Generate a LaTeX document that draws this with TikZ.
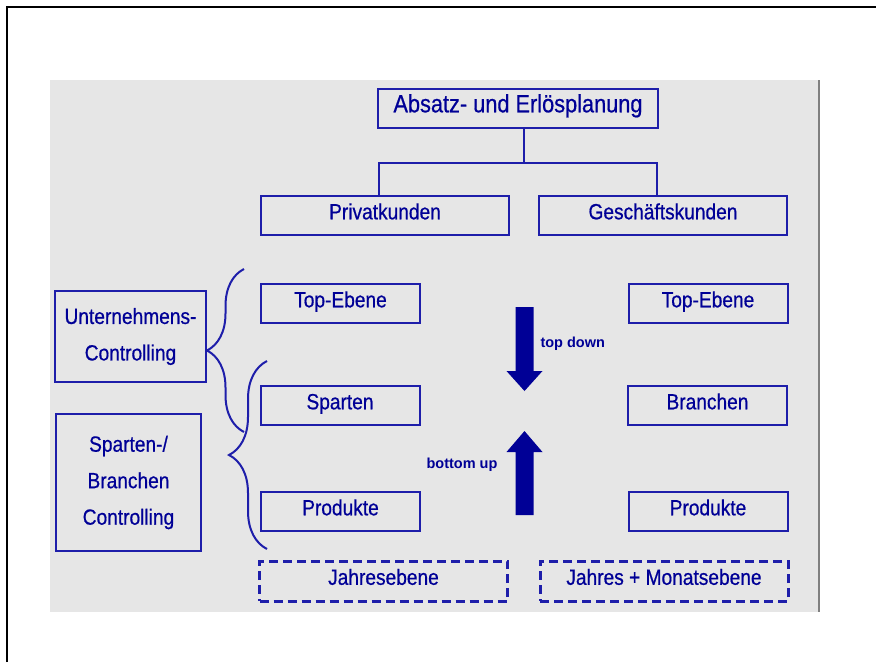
\documentclass[tikz,border=0pt]{standalone}
\usepackage{fontspec}
\setmainfont[FakeStretch=0.87,FakeBold=0.6]{Liberation Sans}
\newfontfamily\flowfont{Liberation Sans}
\usetikzlibrary{decorations.pathreplacing}
\definecolor{planblue}{RGB}{0,0,150}
\definecolor{lineblue}{RGB}{30,30,170}
\definecolor{panelgray}{RGB}{230,230,230}
\tikzset{
  lvlbox/.style={draw=lineblue,line width=2pt,text=planblue,inner sep=0pt,
    align=center,font=\fontsize{22}{36.5}\selectfont},
  onebox/.style={lvlbox,text height=12pt,text depth=4.4pt},
  yearbox/.style={onebox,line width=3pt,dash pattern=on 9pt off 5pt},
  link/.style={draw=lineblue,line width=2pt},
  curly/.style={draw=lineblue,line width=2pt,decorate,decoration={brace,amplitude=#1}},
  flowlbl/.style={text=planblue,font=\flowfont\bfseries\fontsize{14.5}{16}\selectfont}
}
\begin{document}
\begin{tikzpicture}[x=1pt,y=-1pt]
  \useasboundingbox (0,0) rectangle (876,662);
  % frame and gray panel
  \draw[line width=2pt] (7,662) -- (7,7) -- (876,7);
  \fill[panelgray] (50,80) rectangle (819,612);
  \draw[gray,line width=1.5pt] (819,80) -- (819,612);
  % planning tree
  \node[onebox,minimum width=280,minimum height=39,font=\fontsize{25}{30}\selectfont]
    (plan) at (518,108.5) {Absatz- und Erlösplanung};
  \node[onebox,minimum width=248,minimum height=39] (priv)  at (385,215.5) {Privatkunden};
  \node[onebox,minimum width=248,minimum height=39] (gesch) at (663,215.5) {Geschäftskunden};
  \draw[link] ([xshift=6pt]plan.south) -- ++(0,34) coordinate (fork);
  \draw[link] ([xshift=-6pt]priv.north) |- (fork) -| ([xshift=-6pt]gesch.north);
  % levels, left and right column
  \node[onebox,minimum width=159,minimum height=39] (topL) at (340.5,303.5) {Top-Ebene};
  \node[onebox,minimum width=159,minimum height=39] (spL)  at (340,405.5)   {Sparten};
  \node[onebox,minimum width=159,minimum height=39] (prL)  at (340.5,511.5) {Produkte};
  \node[onebox,minimum width=159,minimum height=39] (topR) at (708,303.5)   {Top-Ebene};
  \node[onebox,minimum width=159,minimum height=39] (brR)  at (707.5,405.5) {Branchen};
  \node[onebox,minimum width=159,minimum height=39] (prR)  at (708,511.5)   {Produkte};
  \node[yearbox,minimum width=248,minimum height=40] (jahrL) at (383.5,581) {Jahresebene};
  \node[yearbox,minimum width=248,minimum height=40] (jahrR) at (664,581)   {Jahres + Monatsebene};
  % controlling boxes and braces
  \node[lvlbox,minimum width=151,minimum height=91]  (ctrlU) at (130.5,336.5) {Unternehmens-\\Controlling};
  \node[lvlbox,minimum width=145,minimum height=137] (ctrlS) at (128.5,482.5) {Sparten-/\\Branchen\\Controlling};
  \draw[curly=37pt] (244,432) -- (244,269);
  \draw[curly=38pt] (267,549) -- (267,361);
  % top down / bottom up arrows
  \fill[planblue] (515.5,307) -- (533.5,307) -- (533.5,371) -- (542.5,371)
    -- (524.5,391) -- (506.5,371) -- (515.5,371) -- cycle;
  \fill[planblue] (515.5,515) -- (533.5,515) -- (533.5,452) -- (542.5,452)
    -- (524.5,431) -- (506.5,452) -- (515.5,452) -- cycle;
  \node[flowlbl,anchor=west] (tdlbl) at (537,344) {top down};
  \node[flowlbl] (bulbl) at (462,464.5) {bottom up};
\end{tikzpicture}
\end{document}
